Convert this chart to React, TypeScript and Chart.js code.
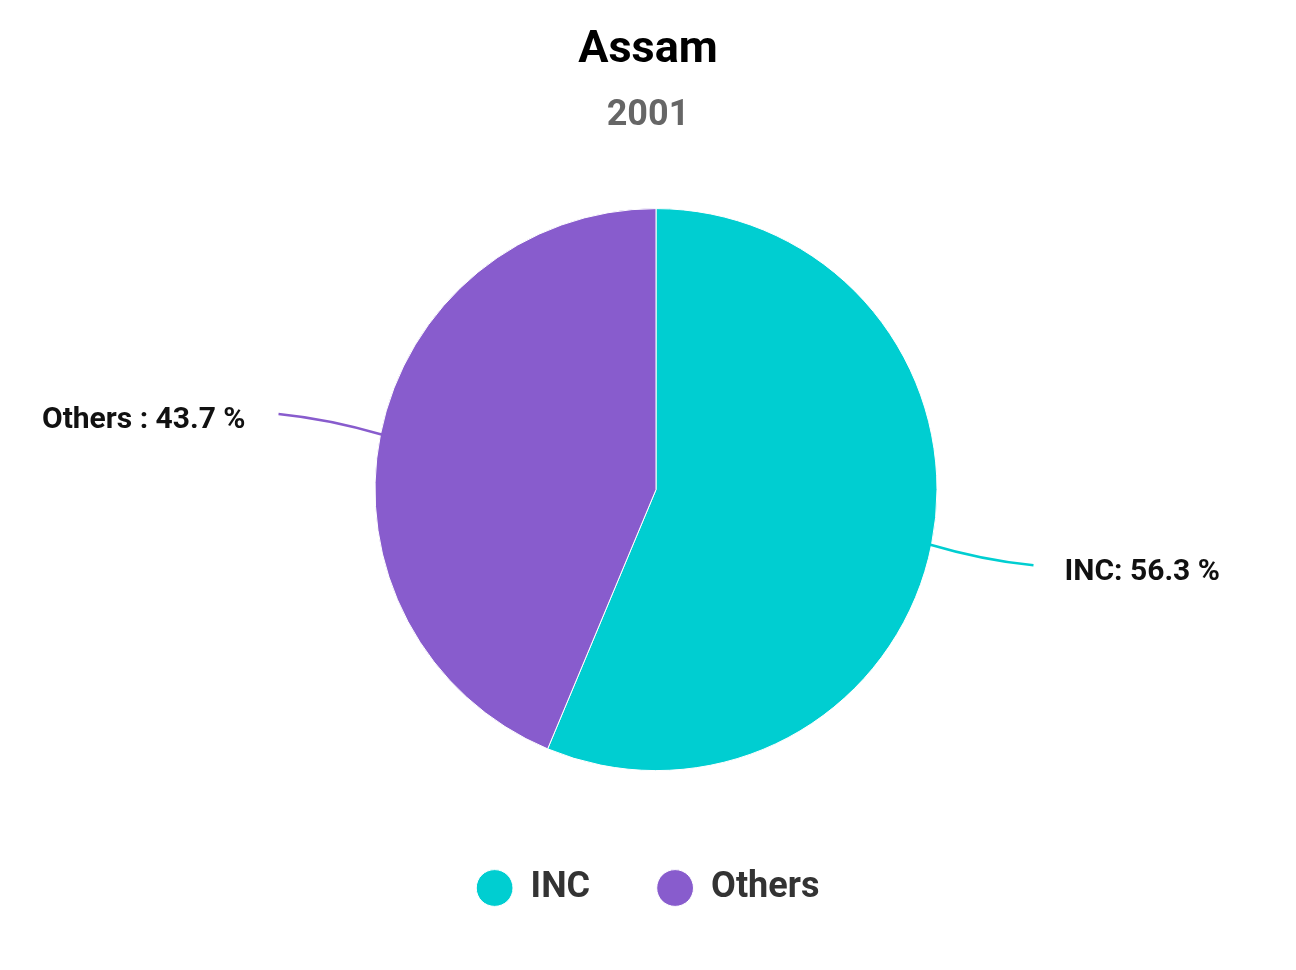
import { Chart, layouts, registerables } from 'chart.js';
import type { Plugin } from 'chart.js';
import { useEffect, useRef } from 'react';

Chart.register(...registerables);

const parties = ['INC', 'Others'];
const voteShare = [56.3, 43.7];
const partyColors = ['#00CED1', '#885CCD'];
const calloutSeparators = [': ', ' : '];

const FONT = 'Roboto, "Noto Sans", sans-serif';

// outside labels with a leader line per slice
const calloutPlugin: Plugin<'pie'> = {
    id: 'callouts',
    afterDatasetsDraw(chart) {
        const { ctx } = chart;
        const meta = chart.getDatasetMeta(0);
        meta.data.forEach((el, i) => {
            const arc = el as any;
            const { x, y, outerRadius, startAngle, endAngle } = arc.getProps(
                ['x', 'y', 'outerRadius', 'startAngle', 'endAngle'],
                true,
            );
            const mid = (startAngle + endAngle) / 2;
            const cos = Math.cos(mid);
            const sin = Math.sin(mid);
            const sx = x + (outerRadius - 2) * cos;
            const sy = y + (outerRadius - 2) * sin;
            const ex = x + (outerRadius + 104) * cos;
            const ey = y + (outerRadius + 104) * sin;
            const cx = x + (outerRadius + 52) * cos;
            const cy = (y + (outerRadius + 52) * sin + ey) / 2;
            const right = cos >= 0;

            ctx.save();
            ctx.strokeStyle = partyColors[i];
            ctx.lineWidth = 2.5;
            ctx.beginPath();
            ctx.moveTo(sx, sy);
            ctx.quadraticCurveTo(cx, cy, ex, ey);
            ctx.stroke();

            ctx.fillStyle = '#111';
            ctx.font = `bold 30px ${FONT}`;
            ctx.textBaseline = 'middle';
            ctx.textAlign = right ? 'left' : 'right';
            const text = `${parties[i]}${calloutSeparators[i]}${voteShare[i].toFixed(1)} %`;
            ctx.fillText(text, right ? ex + 31 : ex - 33, ey + 7);
            ctx.restore();
        });
    },
};

// empty box on the left so the pie sits a little right of the centred titles
const leftSpacer: Plugin<'pie'> = {
    id: 'leftSpacer',
    beforeInit(chart) {
        const box: any = {
            position: 'left',
            fullSize: false,
            weight: 0,
            options: {},
            width: 16,
            height: 0,
            left: 0,
            top: 0,
            right: 16,
            bottom: 0,
            isHorizontal: () => false,
            update(_w: number, h: number) {
                box.width = 16;
                box.height = h;
            },
            draw() {},
        };
        layouts.addBox(chart, box);
    },
};

export default function App() {
    const canvasRef = useRef<HTMLCanvasElement>(null);

    useEffect(() => {
        document.body.style.margin = '0';
        if (!canvasRef.current) return;

        const chart = new Chart(canvasRef.current, {
            type: 'pie',
            data: {
                labels: parties,
                datasets: [
                    {
                        data: voteShare,
                        backgroundColor: partyColors,
                        borderColor: '#fff',
                        borderWidth: 1,
                        radius: 281,
                    },
                ],
            },
            options: {
                responsive: true,
                maintainAspectRatio: false,
                animation: false,
                layout: { padding: { bottom: 54 } },
                plugins: {
                    title: {
                        display: true,
                        text: 'Assam',
                        color: '#000',
                        font: { family: FONT, size: 45, weight: 'bold' },
                        padding: { top: 24, bottom: 16 },
                    },
                    subtitle: {
                        display: true,
                        text: '2001',
                        color: '#666',
                        font: { family: FONT, size: 36, weight: 'bold' },
                        padding: { top: 0, bottom: 39 },
                    },
                    legend: {
                        position: 'bottom',
                        labels: {
                            usePointStyle: true,
                            pointStyle: 'circle',
                            boxWidth: 36,
                            boxHeight: 26,
                            padding: 67,
                            color: '#333',
                            font: { family: FONT, size: 36, weight: 'bold' },
                        },
                    },
                    tooltip: { enabled: false },
                },
            },
            plugins: [leftSpacer, calloutPlugin],
        });

        return () => chart.destroy();
    }, []);

    return (
        <div style={{ position: 'relative', width: 1296, height: 970 }}>
            <canvas ref={canvasRef} />
        </div>
    );
}
